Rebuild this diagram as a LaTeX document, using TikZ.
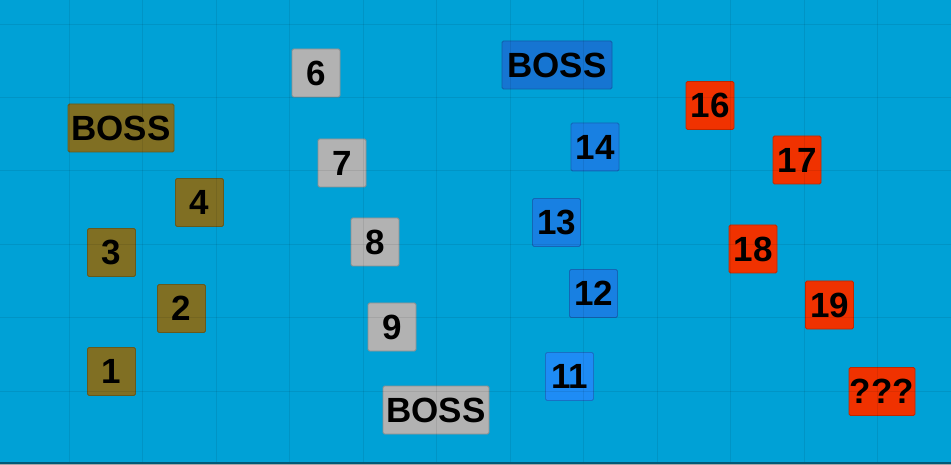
\documentclass[tikz,border=0pt]{standalone}
\usepackage{fontspec}
\setmainfont{Liberation Sans}
\definecolor{bgc}{RGB}{0,161,214}
\definecolor{olivec}{RGB}{128,111,35}
\definecolor{grayc}{RGB}{178,178,178}
\definecolor{bossblue}{RGB}{22,117,210}
\definecolor{numblue}{RGB}{24,128,226}
\definecolor{brightblue}{RGB}{30,140,245}
\definecolor{redc}{RGB}{240,50,0}
\begin{document}
\begin{tikzpicture}[x=1pt,y=-1pt,
  tile/.style={draw=#1!80!black, fill=#1, line width=0.8pt, rounded corners=1.5pt,
    minimum width=48pt, minimum height=48pt, inner sep=0pt,
    font=\fontsize{35}{40}\selectfont\bfseries, text=black},
  widetile/.style={tile=#1, minimum width=106pt},
  gridline/.style={black, opacity=0.08, line width=0.8pt}]
\useasboundingbox (0,0) rectangle (951,465);
\fill[bgc] (0,0) rectangle (951,465);
% olive group
\node[widetile=olivec] (boss1) at (121,128) {BOSS};
\node[tile=olivec] (n4) at (199.5,202.5) {4};
\node[tile=olivec] (n3) at (111.5,252.5) {3};
\node[tile=olivec] (n2) at (181.5,308.5) {2};
\node[tile=olivec] (n1) at (111.5,371.5) {1};
% gray group
\node[tile=grayc] (n6) at (316,73) {6};
\node[tile=grayc] (n7) at (342,163) {7};
\node[tile=grayc] (n8) at (375,242) {8};
\node[tile=grayc] (n9) at (392,327) {9};
\node[widetile=grayc] (boss2) at (436,410) {BOSS};
% blue group
\node[widetile=bossblue, minimum width=110pt] (boss3) at (557,65) {BOSS};
\node[tile=numblue] (n14) at (595,147) {14};
\node[tile=numblue] (n13) at (556.5,222.5) {13};
\node[tile=numblue] (n12) at (593.5,293.5) {12};
\node[tile=brightblue] (n11) at (569.5,376.5) {11};
% red group
\node[tile=redc] (n16) at (710,105.5) {16};
\node[tile=redc] (n17) at (797,160) {17};
\node[tile=redc] (n18) at (753,249) {18};
\node[tile=redc] (n19) at (829.5,305) {19};
\node[tile=redc, minimum width=66pt] (nq) at (882,391.5) {???};
% grid
\foreach \gx in {69,142.5,216,289.5,363,436.5,510,583.5,657,730.5,804,877.5}
  \draw[gridline] (\gx,0) -- (\gx,462);
\foreach \gy in {24,97.4,170.8,244.2,317.6,391}
  \draw[gridline] (0,\gy) -- (951,\gy);
% bottom edge
\fill[black!45!bgc] (0,461.5) rectangle (951,463.5);
\fill[gray!70] (0,463.5) rectangle (951,465);
\end{tikzpicture}
\end{document}
